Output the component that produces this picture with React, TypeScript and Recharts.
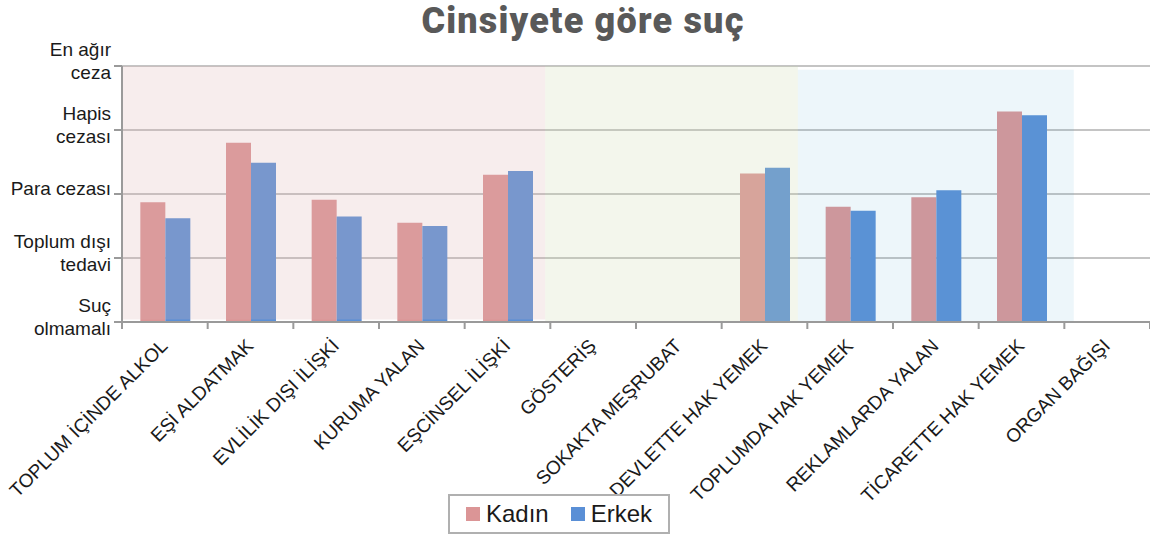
import * as React from "react";
import {
  BarChart,
  Bar,
  XAxis,
  YAxis,
  CartesianGrid,
  ReferenceArea,
  Legend,
} from "recharts";

// crime categories and perceived punishment level (0 = Suç olmamalı ... 4 = En ağır ceza)
const categories = [
  "TOPLUM İÇİNDE ALKOL",
  "EŞİ ALDATMAK",
  "EVLİLİK DIŞI İLİŞKİ",
  "KURUMA YALAN",
  "EŞCİNSEL İLİŞKİ",
  "GÖSTERİŞ",
  "SOKAKTA MEŞRUBAT",
  "DEVLETTE HAK YEMEK",
  "TOPLUMDA HAK YEMEK",
  "REKLAMLARDA YALAN",
  "TİCARETTE HAK YEMEK",
  "ORGAN BAĞIŞI",
];
const kadin = [1.87, 2.8, 1.91, 1.55, 2.3, null, null, 2.32, 1.8, 1.95, 3.29, null];
const erkek = [1.62, 2.49, 1.65, 1.5, 2.36, null, null, 2.41, 1.74, 2.06, 3.23, null];

const yTicks = [0, 1, 2, 3, 4];
const yTickLabels = [
  ["Suç", "olmamalı"],
  ["Toplum dışı", "tedavi"],
  ["Para cezası"],
  ["Hapis", "cezası"],
  ["En ağır", "ceza"],
];

// background groups, in category units along the x axis
const bandStart = [0, 4.94, 7.89];
const bandEnd = [4.94, 7.89, 11.11];
const bandTop = [4, 4, 3.94];
const bandBottom = [0.04, 0, 0];

const data = categories.map((name, i) => ({ name, kadin: kadin[i], erkek: erkek[i] }));

const W = 1150;
const H = 538;
const Y_AXIS_W = 122;
const STEP = (W - Y_AXIS_W) / categories.length;
const FONT = '"Liberation Sans", Arial, sans-serif';
const AXIS_GRAY = "#9a9a9a";
const KADIN = "#db9596";
const ERKEK = "#5a8fd6";
const BAND_FILLS = ["rgb(220,177,177)", "rgb(203,216,173)", "rgb(91,170,210)"];
const BAND_OPACITY = [0.23, 0.23, 0.11];

function XTick(props: any) {
  const { x, y, payload, index } = props;
  const half = STEP / 2;
  const ax = x + 4;
  const ay = y + 25;
  return (
    <g>
      <line x1={x - half} y1={y} x2={x - half} y2={y + 7} stroke={AXIS_GRAY} strokeWidth={2} />
      {index === categories.length - 1 && (
        <line x1={x + half} y1={y} x2={x + half} y2={y + 7} stroke={AXIS_GRAY} strokeWidth={2} />
      )}
      <text
        x={ax}
        y={ay}
        textAnchor="end"
        transform={`rotate(-45, ${ax}, ${ay})`}
        style={{ fontFamily: FONT, fontSize: 19, fill: "#1a1a1a" }}
      >
        {payload.value}
      </text>
    </g>
  );
}

function YTick(props: any) {
  const { x, y, payload } = props;
  const lines = yTickLabels[yTicks.indexOf(payload.value)] || [];
  const offsets = lines.length === 1 ? [1] : [-10, 13];
  return (
    <g>
      {lines.map((t, i) => (
        <text
          key={i}
          x={x}
          y={y + offsets[i]}
          textAnchor="end"
          style={{ fontFamily: FONT, fontSize: 19, fill: "#1a1a1a" }}
        >
          {t}
        </text>
      ))}
    </g>
  );
}

function LegendBox() {
  const items = [
    { label: "Kadın", color: KADIN },
    { label: "Erkek", color: ERKEK },
  ];
  return (
    <div
      style={{
        width: 218,
        height: 36,
        border: "2px solid #b0b0b0",
        display: "flex",
        alignItems: "center",
        justifyContent: "center",
        gap: 22,
        fontFamily: FONT,
        fontSize: 24,
        color: "#1a1a1a",
        background: "#fff",
      }}
    >
      {items.map((it) => (
        <span key={it.label} style={{ display: "flex", alignItems: "center", gap: 6 }}>
          <span style={{ width: 14, height: 14, background: it.color, display: "inline-block" }} />
          {it.label}
        </span>
      ))}
    </div>
  );
}

export default function App() {
  return (
    <div style={{ position: "absolute", left: 0, top: 0, width: W, height: H, background: "#fff" }}>
      <div
        style={{
          position: "absolute",
          left: 383,
          top: 0,
          width: 400,
          height: 42,
          lineHeight: "42px",
          textAlign: "center",
          fontFamily: "Roboto, Lato, sans-serif",
          fontWeight: 900,
          fontSize: 36,
          letterSpacing: 1.2,
          color: "#595959",
          zIndex: 2,
        }}
      >
        Cinsiyete göre suç
      </div>
      <BarChart
        width={W}
        height={H}
        data={data}
        margin={{ top: 66, right: 0, bottom: 0, left: 0 }}
        barCategoryGap="21.4%"
        barGap={0}
      >
        <CartesianGrid vertical={false} stroke="#c4c4c4" strokeWidth={2} />
        <XAxis
          dataKey="name"
          interval={0}
          height={216}
          tickLine={false}
          tickSize={0}
          tickMargin={0}
          axisLine={{ stroke: AXIS_GRAY, strokeWidth: 2 }}
          tick={<XTick />}
        />
        {/* hidden index axis for the background groups; the last slot is kept as right padding */}
        <XAxis
          xAxisId="band"
          type="number"
          domain={[0, categories.length - 1]}
          padding={{ left: 0, right: STEP }}
          allowDataOverflow
          hide
        />
        <YAxis
          width={Y_AXIS_W}
          domain={[0, 4]}
          ticks={yTicks}
          interval={0}
          tickSize={8}
          tickMargin={3}
          tickLine={{ stroke: AXIS_GRAY, strokeWidth: 2 }}
          axisLine={{ stroke: AXIS_GRAY, strokeWidth: 2 }}
          tick={<YTick />}
        />
        <Bar dataKey="kadin" name="Kadın" fill={KADIN} isAnimationActive={false} />
        <Bar dataKey="erkek" name="Erkek" fill={ERKEK} isAnimationActive={false} />
        {bandStart.map((s, i) => (
          <ReferenceArea
            key={i}
            xAxisId="band"
            x1={s}
            x2={bandEnd[i]}
            y1={bandBottom[i]}
            y2={bandTop[i]}
            fill={BAND_FILLS[i]}
            fillOpacity={BAND_OPACITY[i]}
            stroke="none"
            ifOverflow="visible"
            zIndex={350}
          />
        ))}
        <Legend
          layout="horizontal"
          verticalAlign="middle"
          align="center"
          wrapperStyle={{ left: 448, top: 494, width: 222 }}
          content={() => <LegendBox />}
        />
      </BarChart>
    </div>
  );
}
